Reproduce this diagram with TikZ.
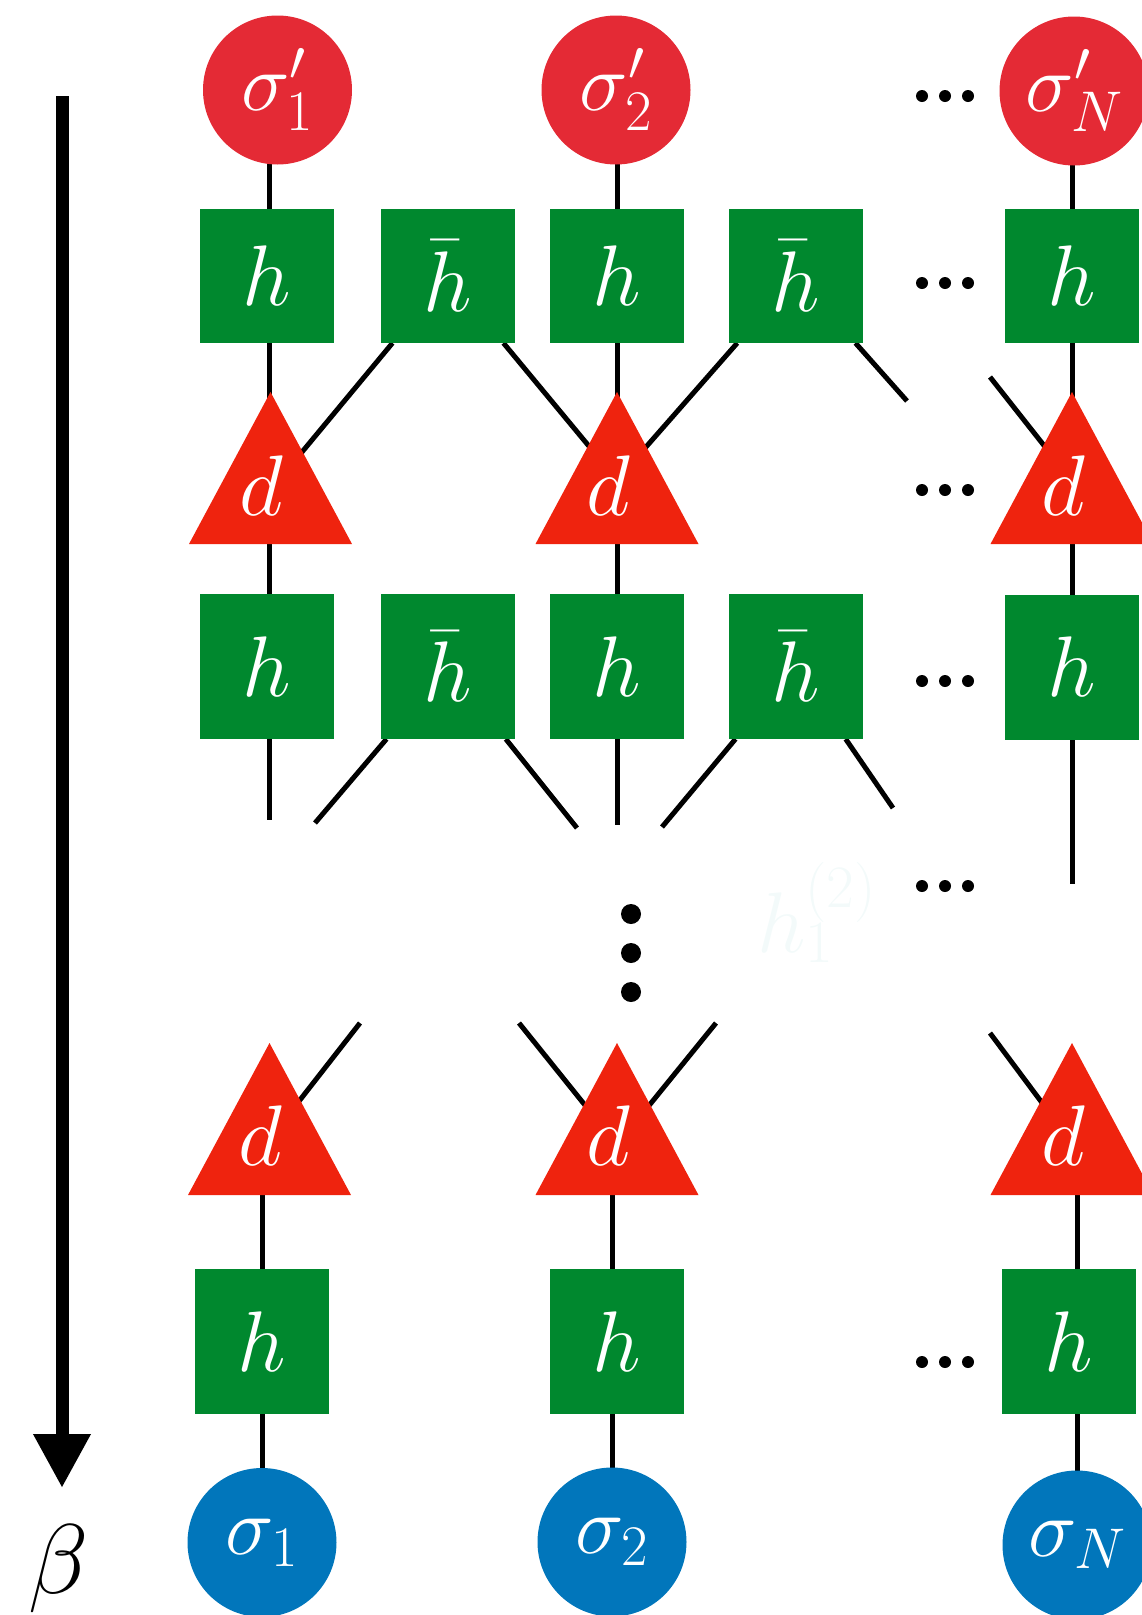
\documentclass[tikz,border=0pt]{standalone}
\usepackage{fix-cm}
\usetikzlibrary{arrows.meta}
\definecolor{sigred}{HTML}{E42A35}
\definecolor{trired}{HTML}{EF230E}
\definecolor{hgreen}{HTML}{00882E}
\definecolor{sigblue}{HTML}{0176BB}
\definecolor{ghost}{HTML}{F3FAFA}
\pgfdeclarelayer{background}
\pgfsetlayers{background,main}
\tikzset{
  dtri/.pic={\fill[trired] (-81.5,0) -- (0,-152) -- (81.5,0) -- cycle;}
}
\begin{document}
\begin{tikzpicture}[x=1pt,y=-1pt,
  every node/.style={inner sep=0pt, outer sep=0pt},
  hbox/.style={rectangle, fill=hgreen, text=white, minimum width=134pt, minimum height=145pt, font=\fontsize{86}{86}\selectfont},
  hboxshort/.style={hbox, minimum height=134pt},
  topsig/.style={circle, fill=sigred, text=white, minimum size=149pt, font=\fontsize{82}{82}\selectfont},
  botsig/.style={circle, fill=sigblue, text=white, minimum size=149pt, font=\fontsize{82}{82}\selectfont},
  dlabel/.style={text=white, font=\fontsize{86}{86}\selectfont},
  bond/.style={line width=5pt, black},
  hdot/.style={circle, fill=black, minimum size=12pt},
  vdot/.style={circle, fill=black, minimum size=20pt},
]
\useasboundingbox (0,0) rectangle (1142,1615);

% top sigma' circles
\node[topsig] (sp1) at (277.5,90) {$\sigma'_1$};
\node[topsig] (sp2) at (616,90) {$\sigma'_2$};
\node[topsig] (spN) at (1074,91) {$\sigma'_N$};

% row 1 boxes
\node[hboxshort] (h1a) at (267,276) {$h$};
\node[hboxshort] (hb1a) at (448,276) {$\bar h$};
\node[hboxshort] (h2a) at (617,276) {$h$};
\node[hboxshort] (hb2a) at (796,276) {$\bar h$};
\node[hboxshort] (hNa) at (1072,276) {$h$};

% row 1 triangles
\pic at (270.5,544) {dtri};
\pic at (617,544) {dtri};
\pic at (1072,544) {dtri};
\coordinate (t1a) at (270.5,490);
\coordinate (t2a) at (617,480);
\coordinate (tNa) at (1072,481);
\node[dlabel] (d1a) at (261,486) {$d$};
\node[dlabel] (d2a) at (608,486) {$d$};
\node[dlabel] (dNa) at (1063,486) {$d$};

% row 2 boxes
\node[hbox] (h1b) at (267,666.5) {$h$};
\node[hbox] (hb1b) at (448,666.5) {$\bar h$};
\node[hbox] (h2b) at (617,666.5) {$h$};
\node[hbox] (hb2b) at (796,666.5) {$\bar h$};
\node[hbox] (hNb) at (1072,667) {$h$};

% lower triangles
\pic at (269.5,1195) {dtri};
\pic at (617,1195) {dtri};
\pic at (1072,1195) {dtri};
\coordinate (t1c) at (269.5,1139);
\coordinate (t2c) at (617,1145);
\coordinate (tNc) at (1072,1143);
\node[dlabel] (d1c) at (260,1136) {$d$};
\node[dlabel] (d2c) at (608,1136) {$d$};
\node[dlabel] (dNc) at (1063,1136) {$d$};

% lower boxes
\node[hbox] (h1c) at (262,1341.5) {$h$};
\node[hbox] (h2c) at (617,1341.5) {$h$};
\node[hbox] (hNc) at (1069,1341.5) {$h$};

% bottom sigma circles
\node[botsig] (s1) at (262,1542.5) {$\sigma_1$};
\node[botsig] (s2) at (612,1542) {$\sigma_2$};
\node[botsig] (sN) at (1077,1545) {$\sigma_N$};

% dots
\foreach \r/\yy in {1/96,2/283,3/490,4/681,5/886,6/1362}
  \foreach \i/\xx in {1/922,2/945,3/968}
    \node[hdot] (hd\r\i) at (\xx,\yy) {};
\foreach \i/\yy in {1/914,2/953,3/992}
  \node[vdot] (vd\i) at (631,\yy) {};

% faint label
\node[text=ghost, font=\fontsize{86}{86}\selectfont, anchor=base west] (ghost) at (757,952) {$h_1^{(2)}$};

% free ends
\coordinate (e1) at (269,820);
\coordinate (e2) at (617,825);
\coordinate (eN) at (1072,884);
\coordinate (f1) at (907,401);
\coordinate (f2) at (990,377);
\coordinate (g1) at (315,823);
\coordinate (g2) at (577,828);
\coordinate (g3) at (662,827);
\coordinate (g4) at (893,808);
\coordinate (k1) at (360,1023);
\coordinate (k2) at (519,1023);
\coordinate (k3) at (716,1023);
\coordinate (k4) at (990,1033);

% beta arrow
\coordinate (atop) at (62,96);
\coordinate (abot) at (62,1488);
\draw[line width=13pt, -{Triangle[width=54pt,length=54pt]}] (atop) -- (abot);
\node[font=\fontsize{99}{99}\selectfont] (beta) at (59,1569) {$\beta$};

\begin{pgfonlayer}{background}
  \draw[bond] (sp1 -| e1) -- (e1);
  \draw[bond] (sp2 -| e2) -- (e2);
  \draw[bond] (spN -| eN) -- (eN);
  \draw[bond] (hb1a) -- (t1a);
  \draw[bond] (hb1a) -- (t2a);
  \draw[bond] (hb2a) -- (t2a);
  \draw[bond] (hb2a) -- (f1);
  \draw[bond] (f2) -- (tNa);
  \draw[bond] (hb1b) -- (g1);
  \draw[bond] (hb1b) -- (g2);
  \draw[bond] (hb2b) -- (g3);
  \draw[bond] (hb2b) -- (g4);
  \draw[bond] (k1) -- (t1c);
  \draw[bond] (k2) -- (t2c);
  \draw[bond] (k3) -- (t2c);
  \draw[bond] (k4) -- (tNc);
  \draw[bond] (s1) -- (s1 |- t1c);
  \draw[bond] (s2) -- (s2 |- t2c);
  \draw[bond] (sN) -- (sN |- tNc);
\end{pgfonlayer}
\end{tikzpicture}
\end{document}
